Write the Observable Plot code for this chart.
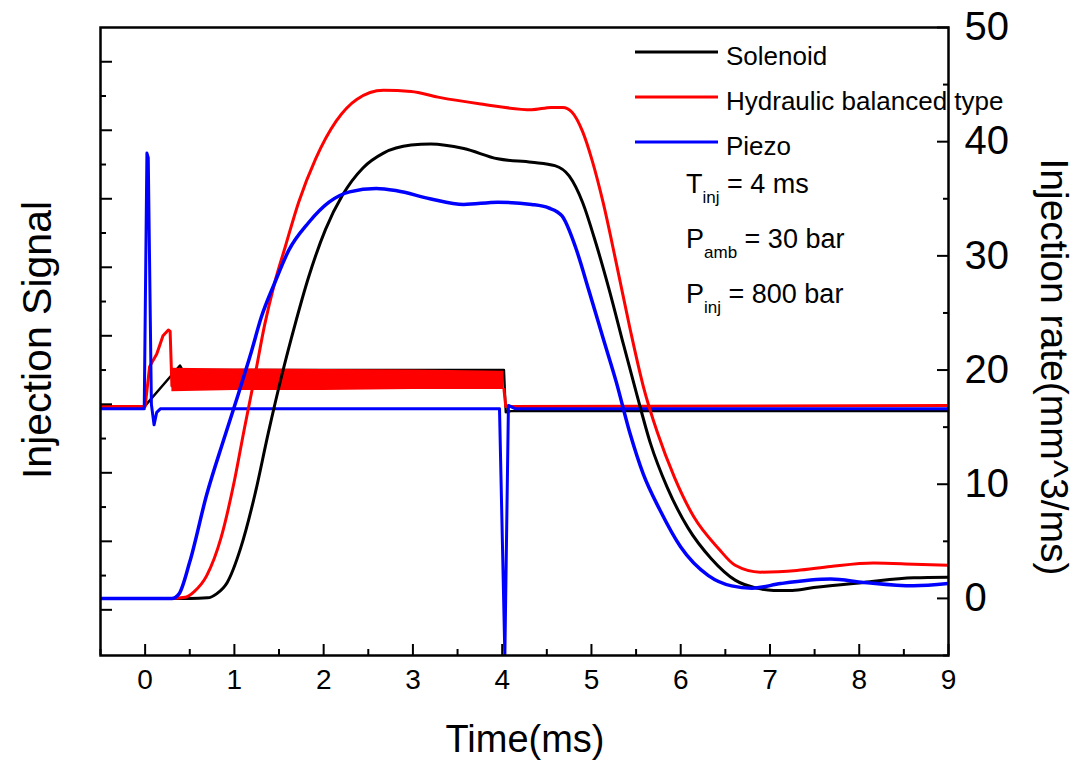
<!DOCTYPE html>
<html><head><meta charset="utf-8">
<script src="https://cdn.jsdelivr.net/npm/d3@7"></script>
<script src="https://cdn.jsdelivr.net/npm/@observablehq/plot@0.6"></script>
<style>
body{margin:0;background:#fff;}
svg{font-family:"Liberation Sans",Arial,sans-serif;}
</style>
</head><body><div id="chart"></div>
<script>
// ---- Data ----
const seriesNames = ["Solenoid", "Hydraulic balanced type", "Piezo"];
const seriesColors = ["#000000", "#ff0000", "#0000ff"];

// injection rate curves (mm^3/ms)
const solRateT = [-0.5,0.0,0.5,0.7,0.8,0.92,1.07,1.23,1.38,1.53,1.68,1.83,2.02,2.21,2.44,2.67,2.98,3.2,3.57,3.95,4.33,4.59,4.75,4.90,5.05,5.20,5.36,5.51,5.66,5.85,6.08,6.34,6.61,6.85,7.04,7.25,7.49,8.05,8.61,9.0];
const solRateV = [0,0,0,0.05,0.4,1.4,4.4,9.1,14.5,19.5,24.0,28.1,32.3,35.3,37.7,39.0,39.7,39.8,39.4,38.5,38.2,37.9,37.0,34.7,31.1,27.0,22.2,17.8,13.6,9.7,6.2,3.5,1.6,0.9,0.7,0.7,0.95,1.4,1.8,1.85];

const hydRateT = [-0.5,0.0,0.3,0.45,0.55,0.69,0.85,1.0,1.11,1.23,1.34,1.45,1.57,1.72,1.91,2.14,2.37,2.67,2.98,3.28,3.76,4.33,4.55,4.68,4.78,4.90,5.01,5.13,5.28,5.43,5.58,5.74,5.93,6.15,6.42,6.61,6.89,7.3,7.68,8.16,8.61,9.0];
const hydRateV = [0,0,0,0.1,0.6,2.0,5.3,10.3,14.8,19.5,24.0,27.6,30.8,34.7,38.5,41.8,43.7,44.5,44.4,43.9,43.3,42.8,43.0,43.0,42.6,40.9,38.3,34.7,29.3,23.7,18.6,14.5,10.6,7.1,4.4,2.9,2.3,2.45,2.8,3.1,3.0,2.9];

const pzRateT = [-0.5,0.0,0.3,0.38,0.5,0.69,0.88,1.04,1.19,1.30,1.45,1.61,1.83,2.06,2.29,2.59,2.82,3.19,3.57,3.95,4.33,4.52,4.67,4.82,4.97,5.13,5.28,5.43,5.58,5.77,6.0,6.31,6.57,6.8,7.12,7.68,8.05,8.61,9.0];
const pzRateV = [0,0,0,0.4,3.2,9.1,13.9,17.8,21.6,24.6,27.6,30.5,32.9,34.7,35.6,35.9,35.7,35.0,34.5,34.7,34.5,34.2,33.5,30.8,27.0,22.8,18.9,14.5,10.9,7.7,4.5,2.0,1.1,0.9,1.3,1.7,1.4,1.1,1.3];

// injection signals (drawn on the same vertical scale)
const solSigT = [-0.5,-0.03,0.39,0.42,4.02,4.04,4.1,9.0];
const solSigV = [16.6,16.6,20.4,20.0,20.0,16.3,16.4,16.4];

const hydSigT = [-0.5,0.0,0.05,0.13,0.2,0.26,0.28,0.30,0.31];
const hydSigV = [16.8,16.8,20.3,21.4,23.0,23.5,23.4,18.6,18.6];
const hydBandT = [0.30,1.0,2.0,3.0,4.02];
const hydBandLo = [18.1,18.2,18.2,18.3,18.3];
const hydBandHi = [20.15,20.1,20.05,20.0,19.9];
const hydSigAfterT = [4.02,4.04,9.0];
const hydSigAfterV = [18.3,16.8,16.9];

const pzSigT = [-0.5,-0.01,0.02,0.035,0.07,0.1,0.13,0.17,3.97,4.03,4.07,4.15,9.0];
const pzSigV = [16.6,16.6,39.0,38.6,17.0,15.2,16.3,16.6,16.6,-5,16.9,16.6,16.6];

// axes
const xMajor = [0,1,2,3,4,5,6,7,8,9];
const xMinor = [-0.5,0.5,1.5,2.5,3.5,4.5,5.5,6.5,7.5,8.5];
const yMajor = [0,10,20,30,40,50];
const yMinor = [-5,5,15,25,35,45];
const leftMajor = [47,41,35,29,23,17,11,5,-1];
const leftMinor = [44,38,32,26,20,14,8,2];
const xTitle = "Time(ms)";
const yLeftTitle = "Injection Signal";
const yRightTitle = "Injection rate(mm^3/ms)";

const rows = (ts, vs) => ts.map((t, i) => ({t, v: vs[i]}));

const W = 1079, H = 763;
const lw = 3;
const font = "Liberation Sans, Arial, sans-serif";

const plot = Plot.plot({
  width: W, height: H,
  marginLeft: 100, marginRight: 131, marginTop: 27, marginBottom: 108,
  style: {fontFamily: font, background: "white", color: "black"},
  x: {domain: [-0.5, 9], axis: null},
  y: {domain: [-5, 50], axis: null},
  marks: [
    // signals
    Plot.line(rows(solSigT, solSigV), {x: "t", y: "v", stroke: seriesColors[0], strokeWidth: 2.4, clip: true}),
    Plot.line(rows(hydSigT, hydSigV), {x: "t", y: "v", stroke: seriesColors[1], strokeWidth: lw, clip: true}),
    Plot.areaY(hydBandT.map((t, i) => ({t, lo: hydBandLo[i], hi: hydBandHi[i]})), {x: "t", y1: "lo", y2: "hi", fill: seriesColors[1], clip: true}),
    Plot.line(rows(hydSigAfterT, hydSigAfterV), {x: "t", y: "v", stroke: seriesColors[1], strokeWidth: lw, clip: true}),
    Plot.line(rows(pzSigT, pzSigV), {x: "t", y: "v", stroke: seriesColors[2], strokeWidth: lw, clip: true}),
    // rates
    Plot.line(rows(solRateT, solRateV), {x: "t", y: "v", stroke: seriesColors[0], strokeWidth: lw, curve: "monotone-x", clip: true}),
    Plot.line(rows(hydRateT, hydRateV), {x: "t", y: "v", stroke: seriesColors[1], strokeWidth: lw, curve: "monotone-x", clip: true}),
    Plot.line(rows(pzRateT, pzRateV), {x: "t", y: "v", stroke: seriesColors[2], strokeWidth: lw + 0.5, curve: "monotone-x", clip: true}),
    // frame
    Plot.frame({stroke: "black", strokeWidth: 2.5}),
    // bottom axis ticks (inward)
    Plot.axisX({anchor: "bottom", ticks: xMajor, tickSize: -11, strokeWidth: 2, tickFormat: () => "", label: null}),
    Plot.axisX({anchor: "bottom", ticks: xMinor, tickSize: -6, strokeWidth: 2, tickFormat: () => "", label: null}),
    Plot.axisX({anchor: "bottom", ticks: xMajor, tickSize: 0, tickPadding: 14, fontSize: 28, tickFormat: d => String(d), label: null}),
    // right axis
    Plot.axisY({anchor: "right", ticks: yMajor, tickSize: -12, strokeWidth: 2, tickFormat: () => "", label: null}),
    Plot.axisY({anchor: "right", ticks: yMinor, tickSize: -6, strokeWidth: 2, tickFormat: () => "", label: null}),
    Plot.axisY({anchor: "right", ticks: yMajor, tickSize: 0, tickPadding: 16, fontSize: 40, tickFormat: d => String(d), label: null}),
    // left axis (unlabelled)
    Plot.axisY({anchor: "left", ticks: leftMajor, tickSize: -12, strokeWidth: 2, tickFormat: () => "", label: null}),
    Plot.axisY({anchor: "left", ticks: leftMinor, tickSize: -6, strokeWidth: 2, tickFormat: () => "", label: null})
  ]
});

document.getElementById("chart").appendChild(plot);

// titles, legend and annotations
const svg = d3.select(plot);
const g = svg.append("g").attr("font-family", font).attr("fill", "black").attr("text-anchor", "start");

g.append("text").attr("x", 525).attr("y", 752).attr("text-anchor", "middle").attr("font-size", 38).text(xTitle);
g.append("text").attr("transform", "translate(51,340) rotate(-90)").attr("text-anchor", "middle").attr("font-size", 41).text(yLeftTitle);
g.append("text").attr("transform", "translate(1041,367) rotate(90)").attr("text-anchor", "middle").attr("font-size", 39).text(yRightTitle);

const legY = [52, 97, 142];
const legBase = [65, 110, 154.5];
seriesNames.forEach((name, i) => {
  g.append("line").attr("x1", 635).attr("x2", 718).attr("y1", legY[i]).attr("y2", legY[i])
    .attr("stroke", seriesColors[i]).attr("stroke-width", 3);
  g.append("text").attr("x", 726).attr("y", legBase[i]).attr("text-anchor", "start").attr("font-size", 26).text(name);
});

const notes = [
  {main: "T", sub: "inj", rest: " = 4 ms", y: 193},
  {main: "P", sub: "amb", rest: " = 30 bar", y: 248},
  {main: "P", sub: "inj", rest: " = 800 bar", y: 303}
];
notes.forEach(n => {
  const t = g.append("text").attr("x", 686).attr("y", n.y).attr("text-anchor", "start").attr("font-size", 27);
  t.append("tspan").text(n.main);
  t.append("tspan").attr("dy", 10).attr("font-size", 17).text(n.sub);
  t.append("tspan").attr("dy", -10).text(n.rest);
});
</script>
</body></html>
